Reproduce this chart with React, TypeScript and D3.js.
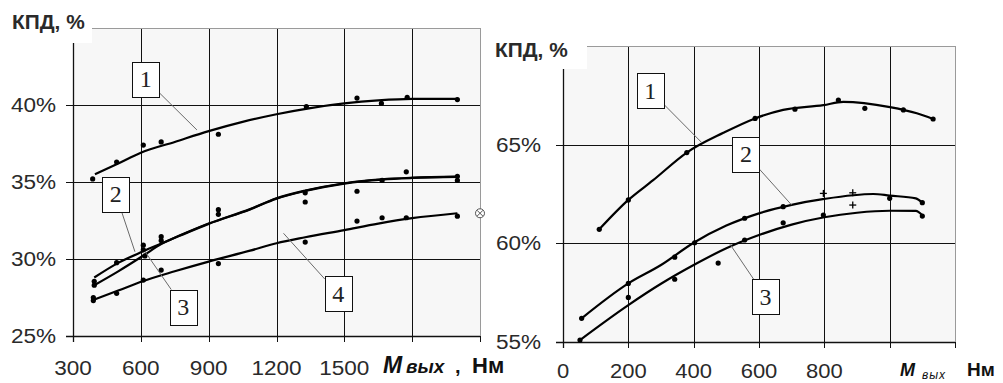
import React from 'react';
import * as d3 from 'd3';

// ---------- LEFT CHART DATA ----------
const leftXTicks = [300, 600, 900, 1200, 1500, 1800, 2100];
const leftXTickLabels = ['300', '600', '900', '1200', '1500'];
const leftYTicks = [25, 30, 35, 40, 45];
const leftYTickLabels = ['25%', '30%', '35%', '40%'];

const leftCurve1: [number, number][] = [[397, 35.5], [500, 36.2], [600, 36.9], [750, 37.6], [900, 38.3], [1050, 38.9], [1200, 39.4], [1350, 39.8], [1500, 40.1], [1650, 40.3], [1800, 40.4], [2000, 40.4]];
const leftCurve2: [number, number][] = [[394, 28.8], [500, 29.75], [611, 30.5], [690, 31.0], [800, 31.7], [900, 32.3], [1083, 33.24], [1200, 33.94], [1327, 34.44], [1500, 34.92], [1667, 35.18], [1800, 35.28], [2000, 35.35]];
const leftCurve3: [number, number][] = [[394, 28.3], [500, 29.2], [611, 30.22], [690, 30.97], [800, 31.68], [900, 32.28], [1083, 33.22], [1200, 33.92], [1327, 34.42], [1500, 34.9], [1667, 35.16], [1800, 35.26], [2000, 35.33]];
const leftCurve4: [number, number][] = [[390, 27.34], [500, 27.95], [611, 28.57], [750, 29.2], [900, 29.83], [1083, 30.54], [1200, 31.02], [1327, 31.41], [1500, 31.88], [1650, 32.3], [1800, 32.65], [2000, 32.97]];

const leftDots1: [number, number][] = [[387, 35.2], [493, 36.3], [611, 37.4], [690, 37.6], [943, 38.1], [1332, 39.9], [1556, 40.45], [1664, 40.1], [1778, 40.5], [2000, 40.35]];
const leftDots23: [number, number][] = [[394, 28.55], [394, 28.3], [493, 29.76], [611, 30.9], [611, 30.6], [618, 30.2], [690, 31.45], [690, 31.2], [943, 33.2], [943, 32.9], [1327, 34.3], [1327, 33.7], [1556, 34.4], [1667, 35.1], [1774, 35.66], [2000, 35.37], [2000, 35.1]];
const leftDots4: [number, number][] = [[390, 27.3], [390, 27.5], [493, 27.77], [611, 28.63], [690, 29.28], [943, 29.7], [1327, 31.1], [1556, 32.46], [1667, 32.68], [1774, 32.68], [2000, 32.78]];

// label: text, box centre (data), leader target (data)
const leftLabels: [string, number, number, number, number][] = [
  ['1', 622, 41.66, 848, 38.38],
  ['2', 489, 34.22, 574, 30.47],
  ['3', 788, 26.88, 619, 30.47],
  ['4', 1473, 27.73, 1231, 31.67],
];

// ---------- RIGHT CHART DATA ----------
const rightXTicks = [0, 200, 400, 600, 800, 1000, 1200];
const rightXTickLabels = ['0', '200', '400', '600', '800'];
const rightYTicks = [55, 60, 65, 70];
const rightYTickLabels = ['55%', '60%', '65%'];

const rightCurve1: [number, number][] = [[111, 60.71], [200, 62.2], [276, 63.2], [379, 64.6], [491, 65.6], [588, 66.33], [674, 66.76], [797, 67.0], [858, 67.17], [1001, 66.9], [1083, 66.59], [1133, 66.3]];
const rightCurve2: [number, number][] = [[57, 56.2], [200, 57.97], [300, 58.9], [400, 60.03], [500, 60.9], [600, 61.52], [700, 61.95], [800, 62.25], [950, 62.5], [1000, 62.42], [1080, 62.28], [1100, 62.06]];
const rightCurve3: [number, number][] = [[52, 55.1], [200, 56.87], [300, 57.95], [400, 58.9], [500, 59.75], [600, 60.42], [700, 60.95], [800, 61.32], [900, 61.55], [1000, 61.65], [1080, 61.64], [1100, 61.42]];

const rightDots1: [number, number][] = [[111, 60.71], [200, 62.2], [379, 64.6], [588, 66.33], [710, 66.8], [843, 67.26], [924, 66.84], [1042, 66.76], [1133, 66.3]];
const rightDots2: [number, number][] = [[57, 56.2], [200, 57.97], [342, 59.3], [403, 60.03], [556, 61.27], [674, 61.86], [1000, 62.28], [1100, 62.06]];
const rightPlus2: [number, number][] = [[797, 62.53], [887, 62.56]];
const rightDots3: [number, number][] = [[52, 55.1], [200, 57.26], [342, 58.18], [475, 59.0], [556, 60.17], [674, 61.04], [797, 61.43], [1100, 61.38]];
const rightPlus3: [number, number][] = [[887, 61.94]];

const rightLabels: [string, number, number, number, number][] = [
  ['1', 267, 67.74, 425, 65.1],
  ['2', 560, 64.52, 700, 61.94],
  ['3', 620, 57.29, 511, 59.96],
];

const SANS = '"Liberation Sans", Arial, sans-serif';
const SERIF = '"Liberation Serif", "Times New Roman", serif';

type Sc = d3.ScaleLinear<number, number>;

function px(v: number) {
  return Math.round(v) + 0.5;
}

function SText({ x, y, anchor, size, children, weight, sx = 1.1 }: { x: number; y: number; anchor?: string; size: number; children: React.ReactNode; weight?: string; sx?: number }) {
  return (
    <text
      transform={`translate(${x},${y}) scale(${sx},1)`}
      textAnchor={anchor || 'start'}
      fontFamily={SANS}
      fontSize={size}
      fontWeight={weight || 'normal'}
      fill="#2a2a2a"
    >
      {children}
    </text>
  );
}

function Grid({ x, y, xt, yt }: { x: Sc; y: Sc; xt: number[]; yt: number[] }) {
  const [x0, x1] = x.range();
  const [y0, y1] = y.range();
  return (
    <g>
      <rect x={x0} y={y1} width={x1 - x0} height={y0 - y1} fill="#f7f7f7" />
      {xt.slice(1, -1).map((t) => (
        <line key={'vx' + t} x1={px(x(t))} x2={px(x(t))} y1={y1} y2={y0 + 6} stroke="#111" strokeWidth={1} />
      ))}
      {yt.slice(1, -1).map((t) => (
        <line key={'hy' + t} x1={x0 - 7} x2={x1} y1={px(y(t))} y2={px(y(t))} stroke="#111" strokeWidth={1} />
      ))}
      <line x1={x0} x2={x1} y1={px(y1)} y2={px(y1)} stroke="#9a9a9a" strokeWidth={1} />
      <line x1={px(x1)} x2={px(x1)} y1={y1} y2={y0 + 6} stroke="#9a9a9a" strokeWidth={1} />
      <line x1={px(x1)} x2={px(x1)} y1={y0} y2={y0 + 6} stroke="#111" strokeWidth={1} />
      <line x1={px(x0)} x2={px(x0)} y1={y1} y2={y0 + 6} stroke="#111" strokeWidth={1.3} />
      <line x1={x0 - 7} x2={x1} y1={px(y0)} y2={px(y0)} stroke="#111" strokeWidth={1.3} />
    </g>
  );
}

function Curves({ x, y, curves }: { x: Sc; y: Sc; curves: [number, number][][] }) {
  const line = d3
    .line<[number, number]>()
    .x((d) => x(d[0]))
    .y((d) => y(d[1]))
    .curve(d3.curveMonotoneX);
  return (
    <g>
      {curves.map((c, i) => (
        <path key={i} d={line(c) || ''} fill="none" stroke="#000" strokeWidth={2.2} strokeLinejoin="round" />
      ))}
    </g>
  );
}

function Dots({ x, y, pts }: { x: Sc; y: Sc; pts: [number, number][] }) {
  return (
    <g>
      {pts.map((p, i) => (
        <circle key={i} cx={x(p[0])} cy={y(p[1])} r={2.6} fill="#000" />
      ))}
    </g>
  );
}

function Plus({ x, y, pts }: { x: Sc; y: Sc; pts: [number, number][] }) {
  return (
    <g stroke="#000" strokeWidth={1.3}>
      {pts.map((p, i) => {
        const cx = x(p[0]);
        const cy = y(p[1]);
        return (
          <g key={i}>
            <line x1={cx - 3.5} x2={cx + 3.5} y1={cy} y2={cy} />
            <line x1={cx} x2={cx} y1={cy - 3.5} y2={cy + 3.5} />
          </g>
        );
      })}
    </g>
  );
}

function Labels({ x, y, labels }: { x: Sc; y: Sc; labels: [string, number, number, number, number][] }) {
  const bw = 27;
  const bh = 35;
  return (
    <g>
      {labels.map(([t, bx, by, tx, ty]) => {
        const cx = x(bx);
        const cy = y(by);
        const ex = x(tx);
        const ey = y(ty);
        const dx = ex - cx;
        const dy = ey - cy;
        const s = Math.min(Math.abs((bw / 2) / (dx || 1e-6)), Math.abs((bh / 2) / (dy || 1e-6)));
        const sx = cx + dx * s;
        const sy = cy + dy * s;
        return (
          <g key={t}>
            <line x1={sx} y1={sy} x2={ex} y2={ey} stroke="#6a6a6a" strokeWidth={1} />
            <rect x={Math.round(cx - bw / 2) + 0.5} y={Math.round(cy - bh / 2) + 0.5} width={bw} height={bh} fill="#fff" stroke="#111" strokeWidth={1} />
            <text x={cx} y={cy + 8} textAnchor="middle" fontFamily={SERIF} fontSize={24} fill="#222">
              {t}
            </text>
          </g>
        );
      })}
    </g>
  );
}

export default function App() {
  const W = 1003;
  const H = 383;
  const xL = d3.scaleLinear().domain([300, 2100]).range([73, 480]);
  const yL = d3.scaleLinear().domain([25, 45]).range([336, 28]);
  const xR = d3.scaleLinear().domain([0, 1200]).range([563, 955]);
  const yR = d3.scaleLinear().domain([55, 70]).range([342, 46]);

  return (
    <svg width={W} height={H} style={{ position: 'fixed', left: 0, top: 0, background: '#fff' }}>
      <rect x={0} y={0} width={W} height={H} fill="#fff" />

      {/* LEFT */}
      <Grid x={xL} y={yL} xt={leftXTicks} yt={leftYTicks} />
      <Curves x={xL} y={yL} curves={[leftCurve1, leftCurve2, leftCurve3, leftCurve4]} />
      <Dots x={xL} y={yL} pts={leftDots1} />
      <Dots x={xL} y={yL} pts={leftDots23} />
      <Dots x={xL} y={yL} pts={leftDots4} />
      <Labels x={xL} y={yL} labels={leftLabels} />
      <g>
        <circle cx={xL(2100)} cy={yL(32.97)} r={4.5} fill="#fff" stroke="#555" strokeWidth={1} />
        <line x1={xL(2100) - 3} x2={xL(2100) + 3} y1={yL(32.97) - 3} y2={yL(32.97) + 3} stroke="#555" strokeWidth={1} />
        <line x1={xL(2100) - 3} x2={xL(2100) + 3} y1={yL(32.97) + 3} y2={yL(32.97) - 3} stroke="#555" strokeWidth={1} />
      </g>
      <rect x={0} y={0} width={92} height={43} fill="#fff" />
      <SText x={12} y={29} size={19.5} weight="bold" sx={1.07}>КПД, %</SText>
      {leftYTickLabels.map((l, i) => (
        <SText key={l} x={56} y={yL(leftYTicks[i]) + 7} anchor="end" size={20.5}>{l}</SText>
      ))}
      {leftXTickLabels.map((l, i) => (
        <SText key={l} x={xL(leftXTicks[i])} y={375} anchor="middle" size={20.5}>{l}</SText>
      ))}
      <text y={373} fontFamily={SANS} fill="#111" fontWeight="bold">
        <tspan x={383} fontStyle="italic" fontSize={23}>М</tspan>
        <tspan x={406} fontStyle="italic" fontSize={19}>вых</tspan>
        <tspan x={455} fontSize={20}>,</tspan>
        <tspan x={472} fontSize={22}>Нм</tspan>
      </text>

      {/* RIGHT */}
      <Grid x={xR} y={yR} xt={rightXTicks} yt={rightYTicks} />
      <Curves x={xR} y={yR} curves={[rightCurve1, rightCurve2, rightCurve3]} />
      <Dots x={xR} y={yR} pts={rightDots1} />
      <Dots x={xR} y={yR} pts={rightDots2} />
      <Dots x={xR} y={yR} pts={rightDots3} />
      <Plus x={xR} y={yR} pts={rightPlus2} />
      <Plus x={xR} y={yR} pts={rightPlus3} />
      <Labels x={xR} y={yR} labels={rightLabels} />
      <rect x={488} y={30} width={99} height={39} fill="#fff" />
      <SText x={495} y={57} size={19.5} weight="bold" sx={1.07}>КПД, %</SText>
      {rightYTickLabels.map((l, i) => (
        <SText key={l} x={541} y={yR(rightYTicks[i]) + 7} anchor="end" size={20.5}>{l}</SText>
      ))}
      {rightXTickLabels.map((l, i) => (
        <SText key={l} x={xR(rightXTicks[i])} y={378} anchor="middle" size={20}>{l}</SText>
      ))}
      <text fontFamily={SANS} fill="#111">
        <tspan x={900} y={376} fontWeight="bold" fontStyle="italic" fontSize={18}>М</tspan>
        <tspan x={922} y={379} fontStyle="italic" fontSize={12} letterSpacing={1}>вых</tspan>
        <tspan x={967} y={376} fontWeight="bold" fontSize={19}>Нм</tspan>
      </text>
    </svg>
  );
}
